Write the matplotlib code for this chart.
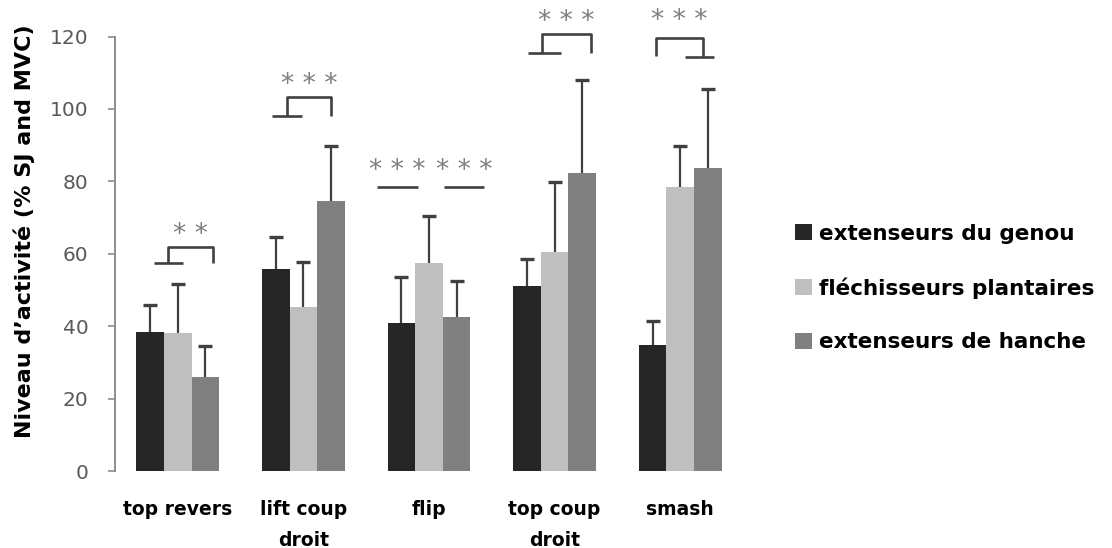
import matplotlib.pyplot as plt
import numpy as np

plt.rcParams["font.family"] = ["DejaVu Sans"]

categories = ["top revers", "lift coup\ndroit", "flip", "top coup\ndroit", "smash"]
series_names = ["extenseurs du genou", "fléchisseurs plantaires", "extenseurs de hanche"]

genou = [38.4, 55.7, 40.9, 51.1, 34.8]
genou_sd = [7.5, 8.8, 12.7, 7.4, 6.6]
plantaires = [38.1, 45.3, 57.5, 60.5, 78.5]
plantaires_sd = [13.5, 12.4, 12.9, 19.3, 11.3]
hanche = [26.0, 74.6, 42.5, 82.3, 83.7]
hanche_sd = [8.5, 15.3, 10.0, 25.7, 21.8]

colors = ["#262626", "#bfbfbf", "#808080"]

# significance brackets: group, stub (x0, x1), left leg x, right leg x, stub y, top y, stars
brackets = [
    (0, -0.19, 0.04, -0.08, 0.28, 57.5, 61.9, "* *"),
    (1, -0.25, -0.01, -0.13, 0.22, 98.1, 103.3, "* * *"),
    (3, -0.21, 0.05, -0.10, 0.29, 115.5, 120.7, "* * *"),
]
# smash: bracket opens on the left, stub on the right
smash_bracket = (4, 0.04, 0.27, -0.19, 0.18, 114.4, 119.6, "* * *")
# flip: two plain lines
flip_lines = [(2, -0.41, -0.09, 78.5, "* * *"), (2, 0.12, 0.44, 78.5, "* * *")]

fig = plt.figure(figsize=(11.12, 5.48), dpi=100)
ax = fig.add_axes([0.1034, 0.1405, 0.5647, 0.8595])

x = np.arange(len(categories))
width = 0.22
line_col = "#404040"
star_col = "#7f7f7f"

for i, (vals, sds) in enumerate([(genou, genou_sd), (plantaires, plantaires_sd), (hanche, hanche_sd)]):
    pos = x + (i - 1) * width
    ax.bar(pos, vals, width, color=colors[i], label=series_names[i], zorder=2)
    _, caps, _ = ax.errorbar(
        pos, vals, yerr=[np.zeros(len(vals)), sds], fmt="none",
        ecolor=line_col, elinewidth=1.6, capsize=5, capthick=2.4, zorder=3,
    )
    caps[0].set_visible(False)

lw = 1.9
for g, s0, s1, lx, rx, yb, yt, label in brackets:
    ax.plot([g + s0, g + s1], [yb, yb], color=line_col, lw=lw, solid_capstyle="butt")
    ax.plot([g + lx, g + lx, g + rx, g + rx], [yb, yt, yt, yb], color=line_col, lw=lw,
            solid_capstyle="butt", clip_on=False)
    ax.text(g + (lx + rx) / 2, yt + 3.4, label, color=star_col, fontsize=19,
            ha="center", va="center", clip_on=False)

g, s0, s1, lx, rx, yb, yt, label = smash_bracket
ax.plot([g + s0, g + s1], [yb, yb], color=line_col, lw=lw, solid_capstyle="butt")
ax.plot([g + lx, g + lx, g + rx, g + rx], [yb + 0.3, yt, yt, yb], color=line_col, lw=lw,
        solid_capstyle="butt", clip_on=False)
ax.text(g + (lx + rx) / 2, yt + 4.6, label, color=star_col, fontsize=19,
        ha="center", va="center", clip_on=False)

for g, x0, x1, y, label in flip_lines:
    ax.plot([g + x0, g + x1], [y, y], color=line_col, lw=lw, solid_capstyle="butt")
    ax.text(g + (x0 + x1) / 2, y + 4.4, label, color=star_col, fontsize=19,
            ha="center", va="center")

ax.set_xlim(-0.5, 4.5)
ax.set_ylim(0, 130.1)
ax.set_yticks(np.arange(0, 121, 20))
ax.set_xticks(x)
ax.set_xticklabels(categories, fontsize=13.5, fontweight="bold", linespacing=1.8)
ax.tick_params(axis="x", length=0, pad=21)
ax.tick_params(axis="y", length=5, width=1.2, color="#8c8c8c", labelcolor="#595959",
               labelsize=14.5, pad=14)

for side in ["top", "right", "bottom"]:
    ax.spines[side].set_visible(False)
ax.spines["left"].set_bounds(0, 120)
ax.spines["left"].set_color("#8c8c8c")
ax.spines["left"].set_linewidth(1.4)

ax.set_ylabel("Niveau d\u2019activité (% SJ and MVC)", fontsize=16, fontweight="bold")
ax.yaxis.set_label_coords(-0.128, 0.51)

ax.legend(
    loc="center left",
    bbox_to_anchor=(776 / 1112, 1 - 288 / 548),
    bbox_transform=fig.transFigure,
    frameon=False,
    prop={"size": 15.5, "weight": "bold"},
    handlelength=0.78,
    handleheight=0.78,
    handletextpad=0.3,
    labelspacing=1.55,
)

fig.savefig("out.png", dpi=100)
